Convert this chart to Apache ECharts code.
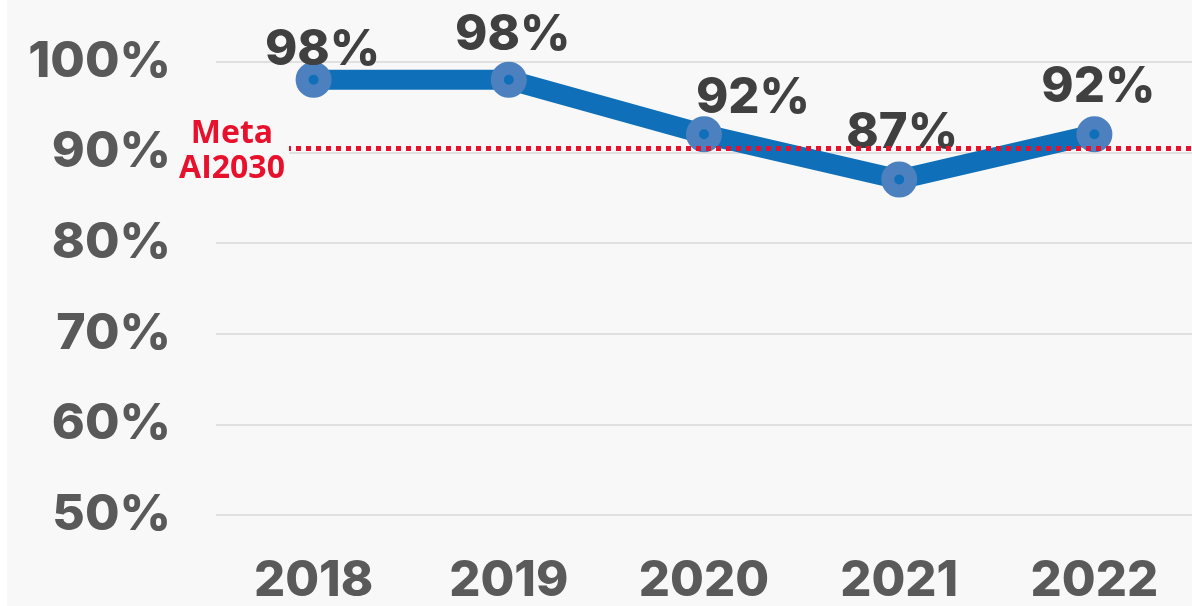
<!DOCTYPE html>
<html>
<head>
<meta charset="utf-8">
<script src="https://cdn.jsdelivr.net/npm/echarts@6/dist/echarts.min.js"></script>
<style>
html,body{margin:0;padding:0;background:#ffffff;}
#c{position:absolute;left:7px;top:0;width:1185px;height:606px;background:#f8f8f8;}
</style>
</head>
<body>
<div id="c"></div>
<script>
const years = ['2018', '2019', '2020', '2021', '2022'];
const values = [98, 98, 92, 87, 92];
const target = 90.5;
const targetLabel = ['Meta', 'AI2030'];
const yTicks = [50, 60, 70, 80, 90, 100];

// label offsets (style only)
const labelOffsets = [[9, 13], [4, -2], [49, 7], [3, -4], [4, -4]];

const chart = echarts.init(document.getElementById('c'));
const fontMain = 'Inter';
chart.setOption({
  animation: false,
  grid: {left: 209, top: 61.7, width: 980, bottom: 88.3, containLabel: false},
  xAxis: {
    type: 'category',
    data: years,
    boundaryGap: true,
    axisLine: {show: false},
    axisTick: {show: false},
    axisLabel: {color: '#5a5a5a', fontFamily: fontMain, fontWeight: 800, fontSize: 49, margin: 42}
  },
  yAxis: {
    type: 'value',
    min: yTicks[0], max: yTicks[yTicks.length - 1], interval: 10,
    axisLine: {show: false},
    axisTick: {show: false},
    splitLine: {lineStyle: {color: '#d9d9d9', width: 1.5}},
    axisLabel: {color: '#595959', fontFamily: fontMain, fontWeight: 800, fontSize: 50, margin: 45,
      formatter: v => v + '%'}
  },
  series: [{
    type: 'line',
    data: values.map((v, i) => ({
      value: v,
      label: {offset: labelOffsets[i]}
    })),
    clip: false,
    lineStyle: {color: '#0f6fb8', width: 20},
    symbol: 'circle',
    symbolSize: 23,
    itemStyle: {color: '#0f6fb8', borderColor: '#4d80bf', borderWidth: 13},
    label: {
      show: true, position: 'top', distance: 0,
      formatter: p => p.value + '%',
      color: '#404040', fontFamily: fontMain, fontWeight: 800, fontSize: 49
    },
    markLine: {
      silent: true,
      symbol: 'none',
      z: 5,
      lineStyle: {color: '#e8112d', type: [5, 5], width: 5},
      label: {
        show: true,
        position: 'start',
        distance: -73,
        padding: [8, 0, 0, 0],
        formatter: targetLabel.map(t => '{a|' + t + '}').join('\n'),
        backgroundColor: '#f8f8f8',
        rich: {a: {width: 114, align: 'center', color: '#e8112d', fontFamily: 'Open Sans', fontWeight: 700, fontSize: 32, lineHeight: 35}}
      },
      data: [{yAxis: target}]
    }
  }]
});
</script>
</body>
</html>
